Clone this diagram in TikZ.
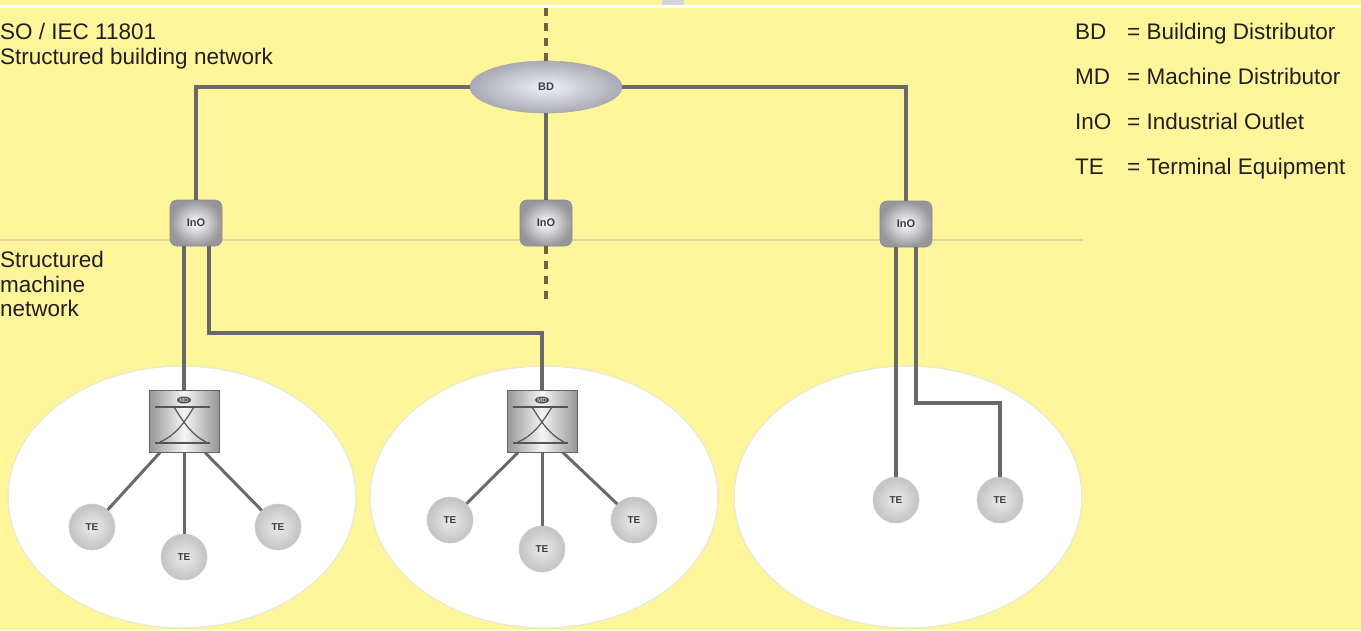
\documentclass[tikz,border=0pt]{standalone}
\usepackage{fontspec}
\setmainfont{Liberation Sans}
\usetikzlibrary{shapes.geometric}
\definecolor{bgy}{RGB}{255,245,154}
\definecolor{wire}{RGB}{105,105,105}
\definecolor{dashc}{RGB}{110,100,64}
\definecolor{txt}{RGB}{35,31,32}
\definecolor{sepc}{RGB}{218,212,165}
\definecolor{topgray}{RGB}{214,214,214}
\definecolor{ellc}{RGB}{232,238,205}
\definecolor{lbl}{RGB}{60,60,70}
\definecolor{bdin}{RGB}{240,240,246}
\definecolor{bdout}{RGB}{170,170,182}
\definecolor{bdedge}{RGB}{170,170,175}
\definecolor{inoout}{RGB}{150,150,155}
\definecolor{inoedge}{RGB}{140,140,140}
\definecolor{mdside}{RGB}{150,150,150}
\definecolor{mdmid}{RGB}{245,245,245}
\definecolor{mdedge}{RGB}{100,100,100}
\definecolor{tein}{RGB}{235,235,235}
\definecolor{teout}{RGB}{195,195,195}
\definecolor{teedge}{RGB}{205,205,205}
\definecolor{mdink}{RGB}{85,85,85}
\definecolor{mdblob}{RGB}{80,80,80}
\definecolor{mdtxt}{RGB}{200,200,200}
\tikzset{
  bigtxt/.style={font=\fontsize{22.5}{25}\selectfont, text=txt, inner sep=0pt, anchor=base west},
  zone/.style={ellipse, fill=white, draw=ellc, line width=1.5pt, minimum width=348pt, minimum height=262pt},
  wireline/.style={draw=wire, line width=4pt},
  tewire/.style={draw=wire, line width=3pt},
  dashline/.style={draw=dashc, line width=4pt, dash pattern=on 8pt off 7pt},
  bdnode/.style={ellipse, minimum width=152pt, minimum height=52pt, inner color=bdin, outer color=bdout, draw=bdedge, line width=0.6pt, font=\fontsize{11}{11}\selectfont\bfseries, text=lbl},
  inonode/.style={rectangle, rounded corners=7pt, minimum width=52pt, minimum height=46pt, inner color=white, outer color=inoout, draw=inoedge, line width=0.6pt, font=\fontsize{11}{11}\selectfont\bfseries, text=lbl},
  mdnode/.style={rectangle, minimum width=70pt, minimum height=62pt, left color=mdside, right color=mdside, middle color=mdmid, draw=mdedge, line width=1pt},
  tenode/.style={circle, minimum size=46pt, inner sep=0pt, inner color=tein, outer color=teout, draw=teedge, line width=0.6pt, font=\fontsize{10}{10}\selectfont\bfseries, text=lbl},
  mdline/.style={draw=mdink, line width=1.2pt}
}
\newcommand\mdglyph[1]{%
  \begin{scope}[shift={(#1.center)}]
    \draw[mdline] (-29,-14) -- (26,-14);
    \draw[mdline] (-29,22) -- (26,22);
    \draw[mdline] (-10,-14) .. controls (0,2) and (8,14) .. (22,21);
    \draw[mdline] (10,-14) .. controls (0,2) and (-8,14) .. (-24,21);
    \fill[mdblob] (0,-21) ellipse (7 and 3.5);
    \node[font=\fontsize{6}{6}\selectfont\bfseries, text=mdtxt, inner sep=0pt] (#1lbl) at (0,-21) {MD};
  \end{scope}}
\begin{document}
\begin{tikzpicture}[x=1pt,y=-1pt]
\useasboundingbox (0,0) rectangle (1361,630);
\clip (0,0) rectangle (1361,630);
\fill[bgy] (0,0) rectangle (1361,630);
\fill[white] (0,5) rectangle (1361,7.8);
\fill[topgray] (662,0) rectangle (684,5);
\coordinate (sepl) at (0,240);
\coordinate (sepr) at (1083,240);
\draw[sepc, line width=1.5pt] (sepl) -- (sepr);

% zones
\node[zone] (z1) at (182,497) {};
\node[zone] (z2) at (544,497) {};
\node[zone] (z3) at (908,497) {};

% texts
\node[bigtxt] (t1) at (0,39) {SO / IEC 11801};
\node[bigtxt] (t2) at (0,64) {Structured building network};
\node[bigtxt] (t3) at (0,267) {Structured};
\node[bigtxt] (t4) at (0,292) {machine};
\node[bigtxt] (t5) at (0,316) {network};

% legend
\node[bigtxt] (l1a) at (1075,39) {BD};
\node[bigtxt] (l1b) at (1127,39) {= Building Distributor};
\node[bigtxt] (l2a) at (1075,84) {MD};
\node[bigtxt] (l2b) at (1127,84) {= Machine Distributor};
\node[bigtxt] (l3a) at (1075,129) {InO};
\node[bigtxt] (l3b) at (1127,129) {= Industrial Outlet};
\node[bigtxt] (l4a) at (1075,174) {TE};
\node[bigtxt] (l4b) at (1127,174) {= Terminal Equipment};

% nodes
\node[bdnode] (bd) at (546,87) {BD};
\node[inonode] (ino1) at (196,223) {InO};
\node[inonode] (ino2) at (546,223) {InO};
\node[inonode] (ino3) at (906,224) {InO};
\node[mdnode] (md1) at (184,421) {};
\node[mdnode] (md2) at (542,421) {};
\mdglyph{md1}
\mdglyph{md2}
\node[tenode] (te11) at (92,527) {TE};
\node[tenode] (te12) at (184,557) {TE};
\node[tenode] (te13) at (278,527) {TE};
\node[tenode] (te21) at (450,520) {TE};
\node[tenode] (te22) at (542,549) {TE};
\node[tenode] (te23) at (634,520) {TE};
\node[tenode] (te31) at (896,500) {TE};
\node[tenode] (te32) at (1000,500) {TE};

% connectors
\coordinate (bdtop) at (546,8);
\coordinate (ino2down) at (546,302);
\coordinate (bend1) at (400,333);
\coordinate (bend3) at (960,403);
\draw[dashline] (bdtop) -- (bd.north);
\draw[dashline] (ino2.south) -- (ino2down);
\draw[wireline] (bd.west) -| (ino1.north);
\draw[wireline] (bd.east) -| (ino3.north);
\draw[wireline] (bd.south) -- (ino2.north);
\draw[wireline] ([xshift=-12pt]ino1.south) -- (md1.north);
\draw[wireline] ([xshift=13pt]ino1.south) |- (bend1) -| (md2.north);
\draw[wireline] ([xshift=-10pt]ino3.south) -- (te31.north);
\draw[wireline] ([xshift=10pt]ino3.south) |- (bend3) -| (te32.north);
\draw[tewire] ([xshift=-24pt]md1.south) -- (te11);
\draw[tewire] (md1.south) -- (te12);
\draw[tewire] ([xshift=21pt]md1.south) -- (te13);
\draw[tewire] ([xshift=-24pt]md2.south) -- (te21);
\draw[tewire] (md2.south) -- (te22);
\draw[tewire] ([xshift=21pt]md2.south) -- (te23);
\end{tikzpicture}
\end{document}
